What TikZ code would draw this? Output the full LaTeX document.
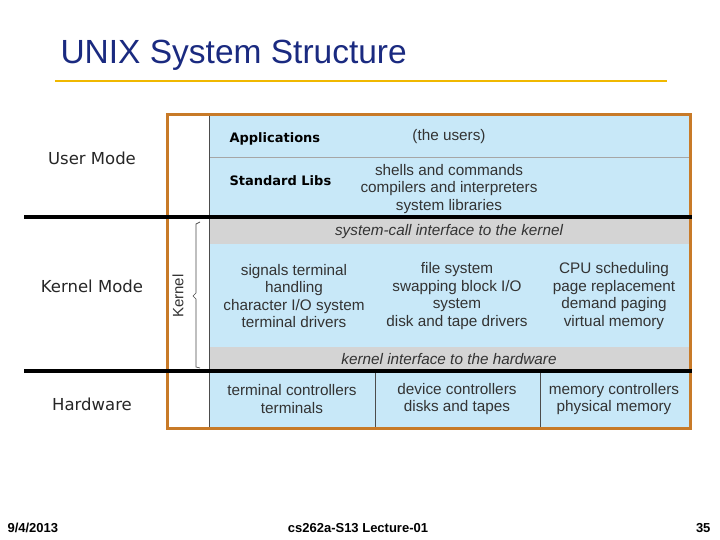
\documentclass[tikz,border=0pt]{standalone}
\usepackage{fontspec}
\setmainfont{Liberation Sans}
\newfontfamily\comic{DejaVu Sans}
\definecolor{lb}{HTML}{C8E8F8}
\definecolor{gr}{HTML}{D4D4D4}
\definecolor{orf}{HTML}{C87A28}
\definecolor{ttl}{HTML}{1A2A80}
\definecolor{yl}{HTML}{F0B800}
\begin{document}
\begin{tikzpicture}[x=1pt,y=-1pt,
  cell/.style={font=\fontsize{15.3}{17.5}\selectfont,text=black!80,align=center},
  ital/.style={font=\fontsize{15.3}{17}\selectfont\itshape,text=black!80},
  mode/.style={font=\comic\fontsize{16.5}{19}\selectfont,text=black!85},
  bold/.style={font=\comic\bfseries\fontsize{13}{15}\selectfont,anchor=west},
  foot/.style={font=\bfseries\fontsize{13}{15}\selectfont}]
\useasboundingbox (0,0) rectangle (720,540);
\fill[white] (0,0) rectangle (720,540);
\node[font=\fontsize{33.5}{38}\selectfont,text=ttl,anchor=west] (title) at (57,55) {UNIX System Structure};
\draw[yl,line width=2.5pt] (55,81) -- (667,81);
% panels
\fill[lb] (209,114) rectangle (690,216);
\draw[gray!70,line width=1pt] (209,158) -- (690,158);
\fill[gr] (209,218) rectangle (690,244);
\fill[lb] (209,244) rectangle (690,347);
\fill[gr] (209,347) rectangle (690,370);
\fill[lb] (209,372) rectangle (690,428);
\draw[gray!60!black,line width=0.8pt] (375,372) -- (375,428) (540,372) -- (540,428);
\draw[gray!60!black,line width=0.8pt] (209,114) -- (209,428);
\draw[orf,line width=3pt] (167,115) rectangle (690,428);
\draw[black,line width=4.5pt] (24,217) -- (692,217);
\draw[black,line width=4.5pt] (24,371) -- (692,371);
% kernel brace
\draw[black!70,line width=0.7pt] (200,222) -- (196,224) -- (196,293) -- (193,296) -- (196,299) -- (196,367) -- (200,368);
\node[rotate=90,font=\fontsize{15}{17}\selectfont,text=black!80] (kern) at (178,296) {Kernel};
% labels
\node[mode] (um) at (92,158) {User Mode};
\node[mode] (km) at (92,286) {Kernel Mode};
\node[mode] (hw) at (92,404) {Hardware};
\node[bold] (app) at (226,139) {Applications};
\node[bold] (lib) at (226,181) {Standard Libs};
\node[cell] (users) at (449,137) {(the users)};
\node[cell] (shells) at (449,189) {shells and commands\\compilers and interpreters\\system libraries};
\node[ital] (sc) at (449,232) {system-call interface to the kernel};
\node[cell] (c1) at (294,296) {signals terminal\\handling\\character I/O system\\terminal drivers};
\node[cell] (c2) at (457,296) {file system\\swapping block I/O\\system\\disk and tape drivers};
\node[cell] (c3) at (614,296) {CPU scheduling\\page replacement\\demand paging\\virtual memory};
\node[ital] (kh) at (449,359) {kernel interface to the hardware};
\node[cell] (h1) at (292,399) {terminal controllers\\terminals};
\node[cell] (h2) at (457,399) {device controllers\\disks and tapes};
\node[cell] (h3) at (614,399) {memory controllers\\physical memory};
% footer
\node[foot,anchor=west] (d) at (4,528) {9/4/2013};
\node[foot] (lec) at (358,528) {cs262a-S13 Lecture-01};
\node[foot,anchor=east] (pg) at (714,528) {35};
\end{tikzpicture}
\end{document}
